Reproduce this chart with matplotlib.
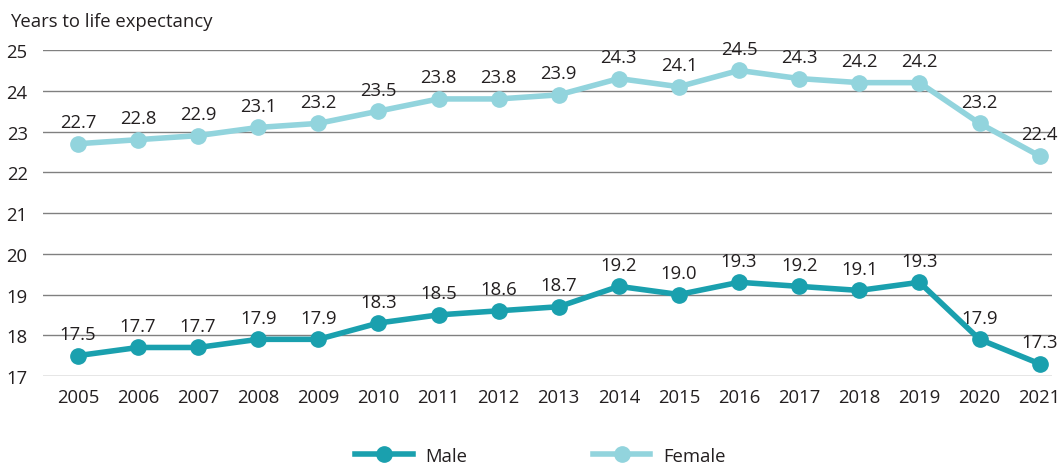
import matplotlib
matplotlib.use('Agg')
import matplotlib.pyplot as plt

years = list(range(2005, 2022))
male = [17.5, 17.7, 17.7, 17.9, 17.9, 18.3, 18.5, 18.6, 18.7, 19.2, 19.0,
        19.3, 19.2, 19.1, 19.3, 17.9, 17.3]
female = [22.7, 22.8, 22.9, 23.1, 23.2, 23.5, 23.8, 23.8, 23.9, 24.3, 24.1,
          24.5, 24.3, 24.2, 24.2, 23.2, 22.4]
y_ticks = [17, 18, 19, 20, 21, 22, 23, 24, 25]

male_color = '#1aa0ae'
female_color = '#92d4dd'
text_color = '#231f20'
fs = 13.3

plt.rcParams['font.family'] = ['Open Sans', 'DejaVu Sans']

fig = plt.figure(figsize=(10.64, 4.64), dpi=100)
ax = fig.add_axes([0.0404, 0.1875, 0.948, 0.7025])

for y in y_ticks:
    ax.axhline(y, color='#808080', linewidth=1, zorder=1)

ax.plot(years, male, color=male_color, linewidth=4, marker='o',
        markersize=11, label='Male', zorder=3)
ax.plot(years, female, color=female_color, linewidth=4, marker='o',
        markersize=11, label='Female', zorder=3)

# Value labels above each point.
for x, m, f in zip(years, male, female):
    ax.annotate(f'{m:.1f}', (x, m), xytext=(0, 9), textcoords='offset points',
                ha='center', va='bottom', fontsize=fs, color=text_color)
    ax.annotate(f'{f:.1f}', (x, f), xytext=(0, 9), textcoords='offset points',
                ha='center', va='bottom', fontsize=fs, color=text_color)

ax.set_xlim(2004.42, 2021.2)
ax.set_ylim(17, 25)
ax.set_xticks(years)
ax.set_yticks(y_ticks)
ax.tick_params(length=0, labelsize=fs, colors=text_color)
ax.tick_params(axis='x', pad=9)
ax.tick_params(axis='y', pad=11)
for s in ax.spines.values():
    s.set_visible(False)

fig.text(0.0095, 0.952, 'Years to life expectancy', fontsize=fs,
         color=text_color, ha='left', va='center')

fig.legend(loc='lower center', bbox_to_anchor=(0.508, -0.04), ncol=2,
           frameon=False, fontsize=fs, handlelength=3.1, columnspacing=6.8,
           handletextpad=0.7, labelcolor=text_color)

fig.savefig('out.png', dpi=100)
